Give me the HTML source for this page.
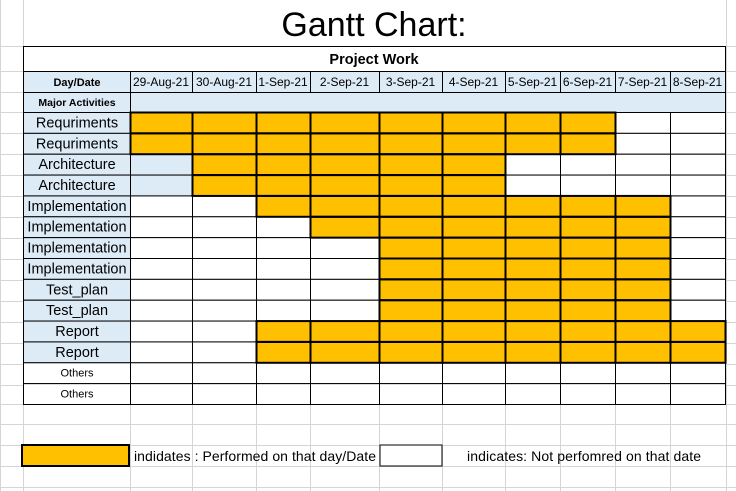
<!DOCTYPE html>
<html><head><meta charset="utf-8">
<style>
html,body{margin:0;padding:0;background:#fff;}
svg{display:block;font-family:"Liberation Sans",sans-serif;}
</style></head>
<body>
<svg id="chart" width="736" height="491" viewBox="0 0 736 491" xmlns="http://www.w3.org/2000/svg">
<g id="grid"></g>
<rect x="24" y="0" width="702" height="46" fill="#fff"/>
<text x="374" y="36" text-anchor="middle" font-size="34" fill="#000">Gantt Chart:</text>
<g id="table"></g>
<g id="legend">
  <rect x="22" y="445" width="107" height="21" fill="#FFC000" stroke="#000" stroke-width="2"/>
  <text x="134" y="461" font-size="14" textLength="242" fill="#000">indidates : Performed on that day/Date</text>
  <rect x="380" y="445" width="62" height="21" fill="#fff" stroke="#000" stroke-width="1"/>
  <text x="467" y="461" font-size="14" textLength="234" fill="#000">indicates: Not perfomred on that date</text>
</g>
</svg>
<script>
const dates = ["29-Aug-21","30-Aug-21","1-Sep-21","2-Sep-21","3-Sep-21","4-Sep-21","5-Sep-21","6-Sep-21","7-Sep-21","8-Sep-21"];
const activities = ["Requriments","Requriments","Architecture","Architecture","Implementation","Implementation","Implementation","Implementation","Test_plan","Test_plan","Report","Report","Others","Others"];
const startIdx = [0,0,1,1,2,3,4,4,4,4,2,2,-1,-1];
const endIdx   = [7,7,5,5,8,8,8,8,8,8,9,9,-1,-1];

const NS="http://www.w3.org/2000/svg";
const colX=[23,130,192,256,310,379,442,505,560,615,670,725];
const rowTop=112;
function x(i){return colX[i+1];}
function w(i){return colX[i+2]-colX[i+1];}
function y(r){return rowTop+r*(404-rowTop)/activities.length;}
function mk(tag,attrs,parent){const e=document.createElementNS(NS,tag);for(const k in attrs)e.setAttribute(k,attrs[k]);parent.appendChild(e);return e;}

const grid=document.getElementById('grid');
[0,23,130,192,256,310,379,442,505,560,615,670,726].forEach(gx=>{
  const l=mk('line',{x1:gx+0.5,y1:0,x2:gx+0.5,y2:491,stroke:'#d4d4d4','stroke-width':1},grid);
  
  
});
[46,71,92,112,133,154,175,196,217,238,259,280,301,322,343,364,385,404,424,445,466,487].forEach(gy=>{
  const l=mk('line',{x1:0,y1:gy+0.5,x2:736,y2:gy+0.5,stroke:'#d4d4d4','stroke-width':1},grid);
  
  
});

const t=document.getElementById('table');
mk('rect',{x:23,y:46,width:702,height:358,fill:'#fff'},t);
const ph=mk('rect',{x:23.5,y:46.5,width:702,height:25,fill:'#fff',stroke:'#000','stroke-width':1},t);


const pt=mk('text',{x:374,y:64,'text-anchor':'middle','font-size':14.5,'font-weight':'bold'},t);
pt.textContent='Project Work';


const dd=mk('rect',{x:23.5,y:71.5,width:107,height:21,fill:'#DDEBF7',stroke:'#000','stroke-width':1},t);


const ddt=mk('text',{x:77,y:86,'text-anchor':'middle','font-size':11,'font-weight':'bold'},t);
ddt.textContent='Day/Date';


dates.forEach((d,i)=>{
  const r=mk('rect',{x:x(i)+0.5,y:71.5,width:w(i),height:21,fill:'#DDEBF7',stroke:'#000','stroke-width':1},t);
  
  
  const tx=mk('text',{x:x(i)+w(i)/2,y:86,'text-anchor':'middle','font-size':12},t);
  tx.textContent=d;
  
  
});
const ma=mk('rect',{x:23.5,y:92.5,width:702,height:20,fill:'#DDEBF7',stroke:'#000','stroke-width':1},t);


mk('line',{x1:130.5,y1:92,x2:130.5,y2:112,stroke:'#000'},t);
const mat=mk('text',{x:77,y:106,'text-anchor':'middle','font-size':10.5,'font-weight':'bold'},t);
mat.textContent='Major Activities';



activities.forEach((a,r)=>{
  const y0=y(r), h=y(r+1)-y(r);
  const isOther=a==='Others';
  const lc=mk('rect',{x:23.5,y:y0+0.5,width:107,height:h,fill:isOther?'#fff':'#DDEBF7',stroke:'#000','stroke-width':1},t);
  
  
  const lt=mk('text',{x:77,y:y0+h/2+(isOther?4:5),'text-anchor':'middle','font-size':isOther?11:14.5},t);
  lt.textContent=a;
  
  
  dates.forEach((d,i)=>{
    const on = startIdx[r]>=0 && i>=startIdx[r] && i<=endIdx[r];
    const blue = !on && (a==='Architecture') && i<startIdx[r];
    const c=mk('rect',{x:x(i)+0.5,y:y0+0.5,width:w(i),height:h,fill:on?'#FFC000':(blue?'#DDEBF7':'#fff'),stroke:'#000','stroke-width':1},t);
    
    
  });
});
activities.forEach((a,r)=>{
  if(startIdx[r]<0)return;
  const y0=y(r), h=y(r+1)-y(r);
  for(let i=startIdx[r];i<=endIdx[r];i++){
    const b=mk('rect',{x:x(i)+0.5,y:y0+0.5,width:w(i),height:h,fill:'none',stroke:'#000','stroke-width':2},t);
    
    
  }
});
</script>
</body></html>
